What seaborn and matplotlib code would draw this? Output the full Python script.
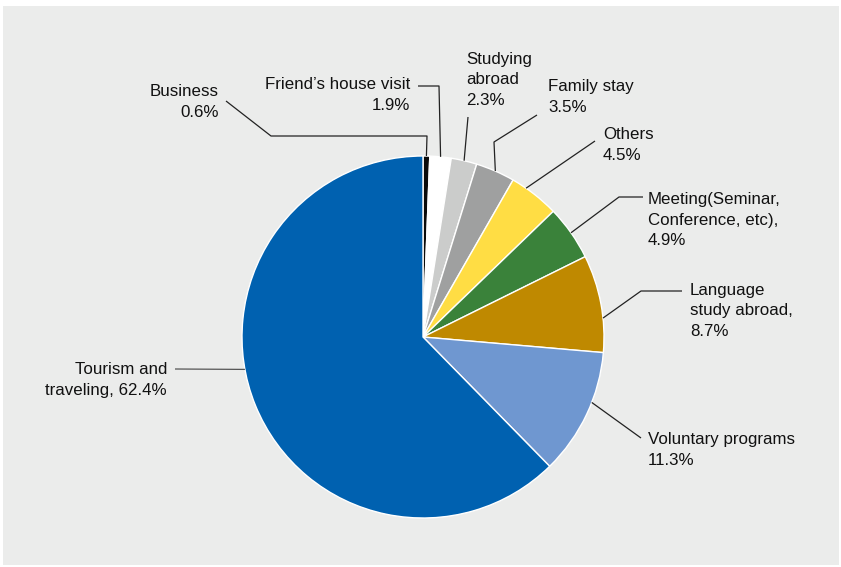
import numpy as np
import matplotlib
matplotlib.use("Agg")
import matplotlib.pyplot as plt
from matplotlib.patches import Rectangle
import seaborn as sns

# data
purposes = ["Business", "Friend\u2019s house visit", "Studying abroad", "Family stay", "Others",
            "Meeting(Seminar, Conference, etc)", "Language study abroad",
            "Voluntary programs", "Tourism and traveling"]
shares = [0.6, 1.9, 2.3, 3.5, 4.5, 4.9, 8.7, 11.3, 62.4]
label_texts = ["Business\n0.6%", "Friend\u2019s house visit\n1.9%", "Studying\nabroad\n2.3%",
               "Family stay\n3.5%", "Others\n4.5%", "Meeting(Seminar,\nConference, etc),\n4.9%",
               "Language\nstudy abroad,\n8.7%", "Voluntary programs\n11.3%",
               "Tourism and\ntraveling, 62.4%"]
colors = ["#0a0a0a", "#ffffff", "#cbcccb", "#9fa0a0", "#ffdd44", "#3a823a",
          "#bf8900", "#6f97d0", "#0061b0"]

sns.set_style("white")
plt.rcParams["font.family"] = ["Liberation Sans", "DejaVu Sans"]

W, H = 841, 567
fig = plt.figure(figsize=(W / 100, H / 100), dpi=100)
ax = fig.add_axes([0, 0, 1, 1])

def py(y):
    # top-down pixel row -> axes y
    return H - y

ax.add_patch(Rectangle((3, py(565)), 836, 559, facecolor="#ebeceb", edgecolor="none", zorder=0))

cx, cy, r = 423, py(337), 181
wedges, _ = ax.pie(shares, colors=sns.color_palette(colors), startangle=90, counterclock=False,
                   center=(cx, cy), radius=r, frame=True,
                   wedgeprops=dict(edgecolor="white", linewidth=1.0))
ax.set_xlim(0, W)
ax.set_ylim(0, H)
ax.set_aspect("equal")
ax.axis("off")

# layout: text anchor, alignment, leader elbows (pixel rows top-down), anchor fraction in wedge
layout = [
    ((219, 102), "right", [(226, 101), (271, 136), (427, 136)], 0.5),
    ((410, 95), "right", [(418, 86), (439, 86)], 0.5),
    ((466, 80), "left", [(468, 117)], 0.5),
    ((548, 97), "left", [(537, 115), (494, 142)], 0.5),
    ((603, 145), "left", [(595, 141)], 0.3),
    ((648, 220), "left", [(643, 197), (619, 197)], 0.5),
    ((690, 311), "left", [(682, 291), (641, 291)], 0.65),
    ((648, 450), "left", [(641, 438)], 0.4),
    ((167, 380), "right", [(175, 369)], 0.553),
]
line_cols = ["#222222"] * 8 + ["#555555"]

for w, txt, (pos, ha, elbows, frac), lc in zip(wedges, label_texts, layout, line_cols):
    ang = np.deg2rad(w.theta2 - frac * (w.theta2 - w.theta1))
    ax_pt = (cx + r * np.cos(ang), cy + r * np.sin(ang))
    pts = [(x, py(y)) for x, y in elbows] + [ax_pt]
    xs, ys = zip(*pts)
    ax.plot(xs, ys, color=lc, linewidth=0.9, solid_capstyle="butt", zorder=3)
    ax.text(pos[0], py(pos[1]), txt, ha=ha, va="center", fontsize=12.2,
            color="#111111", linespacing=1.46, multialignment=ha, zorder=4)

fig.savefig("out.png", dpi=100)
